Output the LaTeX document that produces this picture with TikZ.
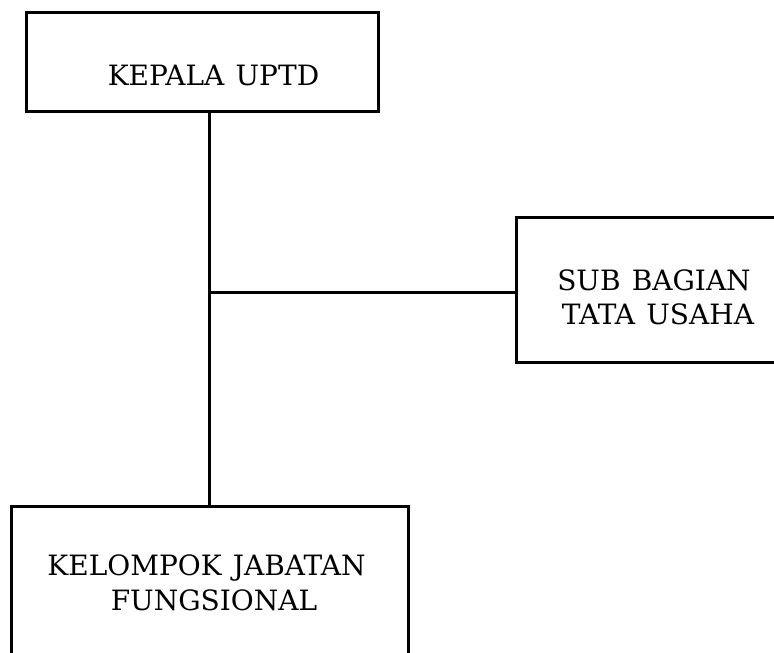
\documentclass[tikz,border=0pt]{standalone}
\usepackage{fontspec}
\setmainfont{DejaVu Serif}
\newcommand{\mylblfont}{\fontsize{28}{34.5}\selectfont\spaceskip=0.4em plus 0.1em\relax}
\begin{document}
\begin{tikzpicture}[x=1pt,y=-1pt,
  box/.style={draw=black, line width=3pt, fill=white, inner sep=0pt},
  lbl/.style={font=\mylblfont, align=center, inner sep=0pt},
  conn/.style={draw=black, line width=3pt}]
\clip (0,0) rectangle (774,653);
\fill[white] (0,0) rectangle (774,653);
\node[box, minimum width=352pt, minimum height=99pt] (kepala) at (202,61.5) {};
\node[box, minimum width=280pt, minimum height=145pt] (sub) at (656,289.5) {};
\node[box, minimum width=397pt, minimum height=152pt] (kelompok) at (209.5,582) {};
\coordinate (j) at (209,292);
\draw[conn] (kepala.south -| j) -- (kelompok.north -| j);
\draw[conn] (j) -- (sub.west |- j);
\node[lbl, anchor=base] (kepalat) at (213.5,85) {KEPALA UPTD};
\node[lbl, anchor=base] (subt1) at (654,290) {SUB BAGIAN};
\node[lbl, anchor=base] (subt2) at (658,324) {TATA USAHA};
\node[lbl, anchor=base] (kelt1) at (206.5,575) {KELOMPOK JABATAN};
\node[lbl, anchor=base] (kelt2) at (214,610) {FUNGSIONAL};
\end{tikzpicture}
\end{document}
